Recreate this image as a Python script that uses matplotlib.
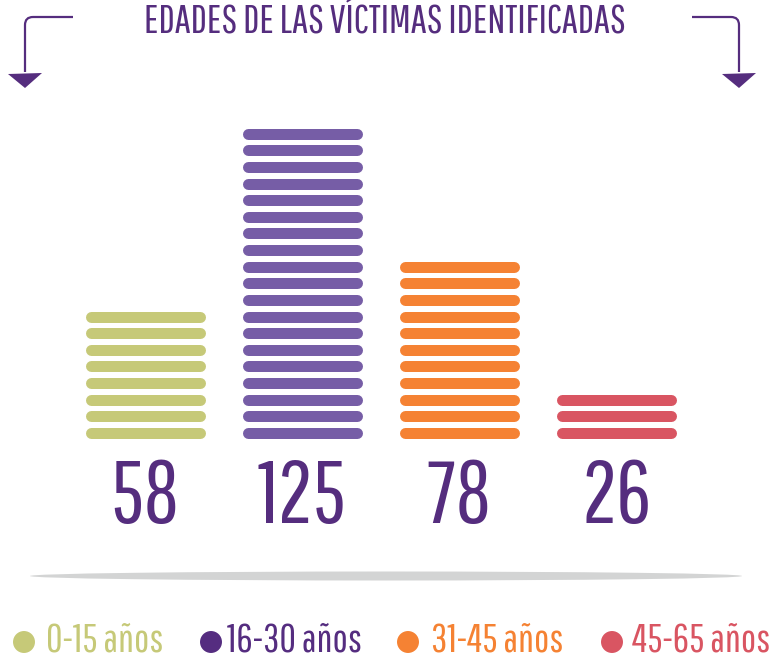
import matplotlib
matplotlib.use("Agg")
import matplotlib.pyplot as plt
from matplotlib import transforms
from matplotlib.patches import Ellipse, Polygon, PathPatch
from matplotlib.path import Path
import numpy as np

# datos
grupos = ["0-15 años", "16-30 años", "31-45 años", "45-65 años"]
victimas = [58, 125, 78, 26]
lineas = [8, 19, 11, 3]   # rayas que tiene cada columna
titulo = "EDADES DE LAS VÍCTIMAS IDENTIFICADAS"

col_barra = ["#C6C978", "#765DA6", "#F58233", "#D95562"]
col_punto = ["#C6C978", "#552D80", "#F58233", "#D95562"]
morado = "#552D7E"

plt.rcParams["font.family"] = ["Pathway Gothic One", "DejaVu Sans"]

W, H = 769, 659
fig = plt.figure(figsize=(W / 100, H / 100), dpi=100)

# capa de fondo en pixeles (adornos, leyenda)
fondo = fig.add_axes([0, 0, 1, 1])
fondo.set_xlim(0, W)
fondo.set_ylim(H, 0)
fondo.axis("off")

# columnas de rayas
x0, paso = 145, 157.3
y0, dy = 432.7, 16.6
ax = fig.add_axes([0, (H - 450) / H, 1, 350 / H])
ax.set_xlim(-x0 / paso, (W - x0) / paso)
ax.set_ylim((y0 - 450) / dy, (y0 - 100) / dy)
ax.axis("off")
medio = 54.5 / paso
for i, (n, c) in enumerate(zip(lineas, col_barra)):
    lc = ax.hlines(np.arange(n), i - medio, i + medio, colors=c, linewidth=11 * 0.72)
    lc.set_capstyle("round")

# numeros bajo cada columna
tr = transforms.blended_transform_factory(ax.transData, fondo.transData)
for i, v in enumerate(victimas):
    ax.text(i, 523, str(v), transform=tr, ha="center", va="baseline",
            fontsize=63, color=morado)

# titulo y corchetes
fondo.text(385, 33, titulo, ha="center", va="baseline", fontsize=29, color=morado)
for lado in (1, -1):
    cx = 25 if lado == 1 else 739
    xs = 73 if lado == 1 else 692
    camino = Path([(xs, 17), (cx + 8 * lado, 17), (cx, 17), (cx, 25), (cx, 72)],
                  [Path.MOVETO, Path.LINETO, Path.CURVE3, Path.CURVE3, Path.LINETO])
    fondo.add_patch(PathPatch(camino, fill=False, ec=morado, lw=1.6))
    fondo.add_patch(Polygon([(cx - 17, 74), (cx + 17, 73), (cx, 88)], closed=True,
                            fc=morado, ec="none"))

# sombra
fondo.add_patch(Ellipse((386, 576), 712, 9, fc="#D3D4D4", ec="none"))

# leyenda
punto_x = [24, 211, 408, 612]
texto_x = [46, 227, 431, 632]
for g, c, px, tx in zip(grupos, col_punto, punto_x, texto_x):
    fondo.scatter([px], [642], s=250, color=c, edgecolors="none")
    fondo.text(tx, 652, g, ha="left", va="baseline", fontsize=29, color=c)

fig.savefig("out.png", dpi=100)
